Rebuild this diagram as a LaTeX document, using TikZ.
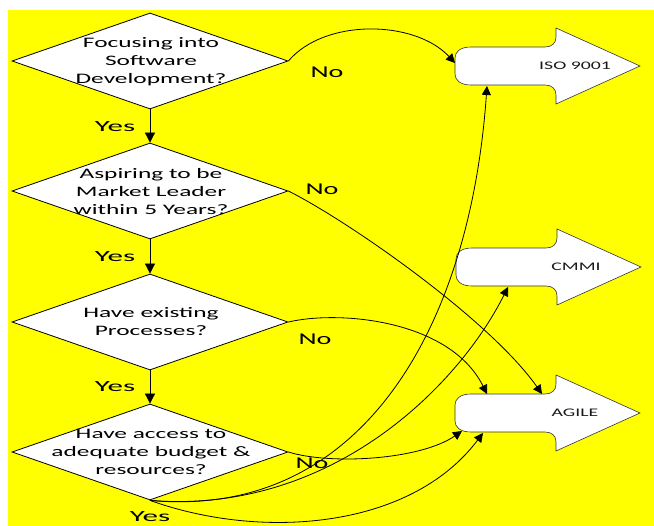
\documentclass[tikz,border=0pt]{standalone}
\usepackage{fontspec}
\setmainfont{Carlito}[FakeStretch=1.7]
\newfontfamily\qfont{Carlito}[FakeStretch=1.75]
\newfontfamily\yfont{Carlito}[FakeStretch=2.0]
\newfontfamily\nfont{Carlito}[FakeStretch=1.7]
\usetikzlibrary{shapes.geometric,arrows.meta}
\definecolor{bgyellow}{HTML}{FFFF00}
\tikzset{
  decision/.style={diamond, draw=black, line width=0.8pt, fill=white,
    minimum width=276pt, minimum height=96pt, inner sep=0pt},
  qtext/.style={align=center, font=\qfont\fontsize{14.5}{18}\selectfont, inner sep=0pt},
  yeslbl/.style={font=\yfont\fontsize{15.5}{18}\selectfont, inner sep=0pt},
  nolbl/.style={font=\nfont\fontsize{16.5}{18}\selectfont, inner sep=0pt},
  shapelbl/.style={font=\nfont\fontsize{11.6}{14}\selectfont, inner sep=0pt, text=black!90},
  conn/.style={line width=0.8pt, -{Triangle[length=9pt,width=9pt]}},
  downarr/.style={line width=0.8pt, -{Triangle[length=10pt,width=10pt]}},
  bigarrow/.pic={
    \draw[fill=white, draw=black!80, line width=0.6pt]
      (16,-19) -- (90,-19) .. controls (97,-19) and (101,-23) .. (101,-29)
      -- (101,-38) -- (185,0) -- (101,38) -- (101,29)
      .. controls (101,23) and (97,19) .. (90,19) -- (16,19)
      .. controls (5,19) and (0,14) .. (0,8) -- (0,-8)
      .. controls (0,-14) and (5,-19) .. (16,-19) -- cycle;
    \node[shapelbl] (-t) at (120,0) {#1};
  }
}
\begin{document}
\begin{tikzpicture}[x=1pt,y=-1pt]
\useasboundingbox (0,0) rectangle (654,526);
\fill[white] (0,0) rectangle (654,526);
\fill[bgyellow] (8,10) rectangle (654,526);

% decisions
\node[decision] (d1) at (150,61) {};
\node[decision] (d2) at (150,191) {};
\node[decision] (d3) at (150,322) {};
\node[decision] (d4) at (150,452) {};
\node[qtext] (t1) at (151,62) {Focusing into\\Software\\Development?};
\node[qtext] (t2) at (151,192) {Aspiring to be\\Market Leader\\within 5 Years?};
\node[qtext] (t3) at (151,322) {Have existing\\Processes?};
\node[qtext] (t4) at (151,452) {Have access to\\adequate budget \&\\resources?};

% target shapes
\pic (iso) at (455,66) {bigarrow=ISO 9001};
\pic (cmmi) at (456,267) {bigarrow=CMMI};
\pic (agile) at (455,413) {bigarrow=AGILE};

\coordinate (isoL) at (455,63);
\coordinate (isoB) at (487,86);
\coordinate (cmmiB) at (508,287);
\coordinate (agT1) at (487,394);
\coordinate (agT2) at (542,394);
\coordinate (agL) at (462,431);
\coordinate (agB) at (483,433);

% yes arrows
\draw[downarr] (d1.south) -- (d2.north);
\draw[downarr] (d2.south) -- (d3.north);
\draw[downarr] (d3.south) -- (d4.north);

% no curves
\draw[conn] (d1.east) .. controls (325,18) and (415,20) .. (isoL);
\draw[conn] (d2.east) .. controls (350,222) and (490,320) .. (agT2);
\draw[conn] (d3.east) .. controls (340,310) and (450,320) .. (agT1);
\draw[conn] (d4.east) .. controls (330,465) and (420,460) .. (agL);

% final yes curves
\draw[conn] (d4.south) .. controls (360,520) and (470,330) .. (isoB);
\draw[conn] (d4.south) .. controls (330,515) and (458,387) .. (cmmiB);
\draw[conn] (d4.south) .. controls (260,540) and (410,530) .. (agB);

% labels
\node[yeslbl] (y1) at (115,127) {Yes};
\node[yeslbl] (y2) at (115,257) {Yes};
\node[yeslbl] (y3) at (115,387) {Yes};
\node[yeslbl] (y4) at (150,517) {Yes};
\node[nolbl] (n1) at (327,72) {No};
\node[nolbl] (n2) at (322,189) {No};
\node[nolbl] (n3) at (315,339) {No};
\node[nolbl] (n4) at (312,463) {No};
\end{tikzpicture}
\end{document}
